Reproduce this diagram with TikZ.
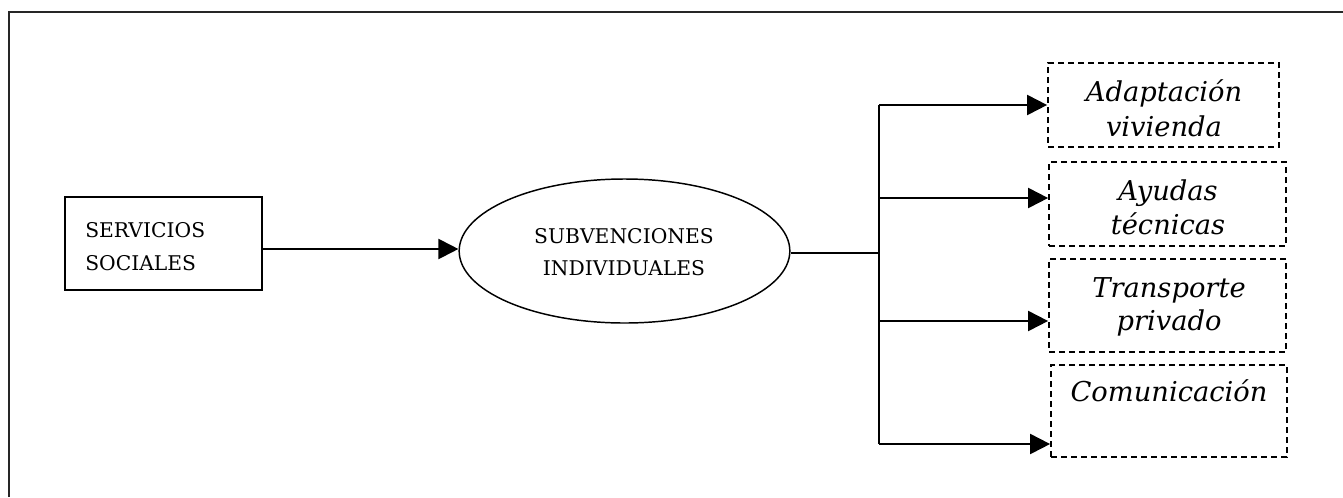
\documentclass[tikz,border=0pt]{standalone}
\usepackage{fontspec}
\setmainfont{DejaVu Serif}
\usetikzlibrary{arrows.meta,shapes.geometric}
\begin{document}
\begin{tikzpicture}[x=0.75pt,y=-0.75pt,
  conn/.style={line width=1.5pt, -{Triangle[length=15pt,width=15pt]}},
  plain/.style={line width=1.5pt},
  rbox/.style={draw, line width=1.4pt, rectangle, inner sep=0pt},
  ebox/.style={draw, line width=1.1pt, ellipse, inner sep=0pt, minimum width=248pt, minimum height=108pt},
  dbox/.style={draw, line width=1.3pt, dash pattern=on 4.5pt off 3pt, rectangle, inner sep=0pt},
  uptx/.style={inner sep=0pt, font=\fontsize{15.2}{18}\selectfont},
  ittx/.style={inner sep=0pt, anchor=base, font=\fontsize{20.5}{24}\selectfont\itshape}
]
\useasboundingbox (0,0) rectangle (1343,497);
% outer frame
\draw[line width=2pt, black!85] (9,497) -- (9,12) -- (1343,12);

% left box
\node[rbox, minimum width=147.75pt, minimum height=69.75pt] (ss) at (163.5,243.5) {};
\node[uptx, anchor=base west] (ss1) at (85,237) {SERVICIOS};
\node[uptx, anchor=base west] (ss2) at (85,270) {SOCIALES};

% ellipse
\node[ebox] (sub) at (624.5,251) {};
\node[uptx, anchor=base] (sub1) at (624,243) {SUBVENCIONES};
\node[uptx, anchor=base] (sub2) at (624,275) {INDIVIDUALES};

% dashed boxes
\node[dbox, minimum width=173.25pt, minimum height=63pt] (b1) at (1163.5,105) {};
\node[dbox, minimum width=177.75pt, minimum height=63pt] (b2) at (1167.5,204) {};
\node[dbox, minimum width=177.75pt, minimum height=69.75pt] (b3) at (1167.5,305.5) {};
\node[dbox, minimum width=177pt, minimum height=69pt] (b4) at (1169,411) {};

\node[ittx] (t1a) at (1164,101) {Adaptación};
\node[ittx] (t1b) at (1164,136) {vivienda};
\node[ittx] (t2a) at (1168,200) {Ayudas};
\node[ittx] (t2b) at (1168,234) {técnicas};
\node[ittx] (t3a) at (1169,297) {Transporte};
\node[ittx] (t3b) at (1169,330) {privado};
\node[ittx] (t4a) at (1169,401) {Comunicación};

% connectors
\coordinate (j) at (879,253);
\coordinate (c1) at (879,105);
\coordinate (c2) at (879,198);
\coordinate (c3) at (879,321);
\coordinate (c4) at (879,444);

\draw[conn] (ss.east |- 0,249) -- (sub.west |- 0,249);
\draw[plain] (sub.east |- j) -- (j);
\draw[plain] (c1) -- (c4);
\draw[conn] (c1) -- (c1 -| b1.west);
\draw[conn] (c2) -- (c2 -| b2.west);
\draw[conn] (c3) -- (c3 -| b3.west);
\draw[conn] (c4) -- (c4 -| b4.west);
\end{tikzpicture}
\end{document}
